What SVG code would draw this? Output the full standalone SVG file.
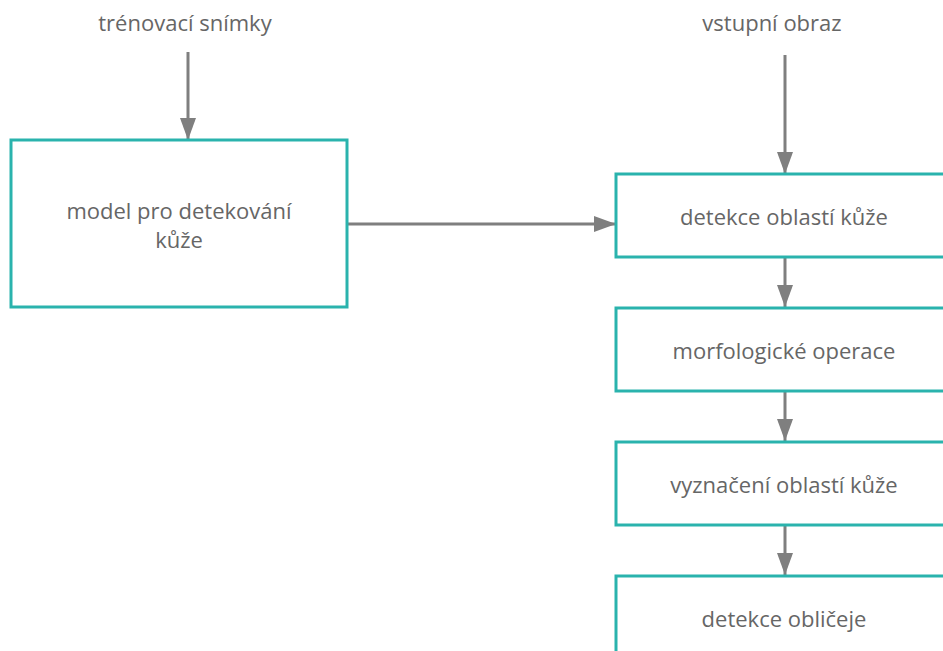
<svg xmlns="http://www.w3.org/2000/svg" width="943" height="651" viewBox="0 0 943 651">
<style>
.box{fill:#fff;stroke:#2ab3ad;stroke-width:3}
.t{font-family:"Open Sans","Noto Sans",sans-serif;font-size:22px;fill:#666;text-anchor:middle}
.c{stroke:#7f7f7f;stroke-width:3;fill:none}
</style>
<defs>
<marker id="ah" viewBox="0 0 22 16" refX="22" refY="8" markerWidth="22" markerHeight="16" markerUnits="userSpaceOnUse" orient="auto">
<path d="M0,0 L22,8 L0,16 Z" fill="#7f7f7f"/>
</marker>
</defs>
<rect width="943" height="651" fill="#fff"/>
<g id="connectors">
<line class="c" x1="188" y1="52" x2="188" y2="140" marker-end="url(#ah)"/>
<line class="c" x1="785" y1="55" x2="785" y2="174" marker-end="url(#ah)"/>
<line class="c" x1="347" y1="224" x2="616" y2="224" marker-end="url(#ah)"/>
<line class="c" x1="785" y1="257" x2="785" y2="307" marker-end="url(#ah)"/>
<line class="c" x1="785" y1="391" x2="785" y2="441" marker-end="url(#ah)"/>
<line class="c" x1="785" y1="525" x2="785" y2="575" marker-end="url(#ah)"/>
</g>
<g id="label-training"><text class="t" x="185" y="31">trénovací snímky</text></g>
<g id="label-input"><text class="t" x="772" y="31">vstupní obraz</text></g>
<g id="model">
<rect class="box" x="11" y="140" width="336" height="167"/>
<text class="t" x="179" y="219">model pro detekování</text>
<text class="t" x="179" y="248">kůže</text>
</g>
<g id="detect-skin">
<rect class="box" x="616" y="174" width="336" height="83"/>
<text class="t" x="784" y="225">detekce oblastí kůže</text>
</g>
<g id="morph">
<rect class="box" x="616" y="308" width="336" height="83"/>
<text class="t" x="784" y="359">morfologické operace</text>
</g>
<g id="mark-skin">
<rect class="box" x="616" y="442" width="336" height="83"/>
<text class="t" x="784" y="493">vyznačení oblastí kůže</text>
</g>
<g id="detect-face">
<rect class="box" x="616" y="576" width="336" height="83"/>
<text class="t" x="784" y="627">detekce obličeje</text>
</g>
</svg>
